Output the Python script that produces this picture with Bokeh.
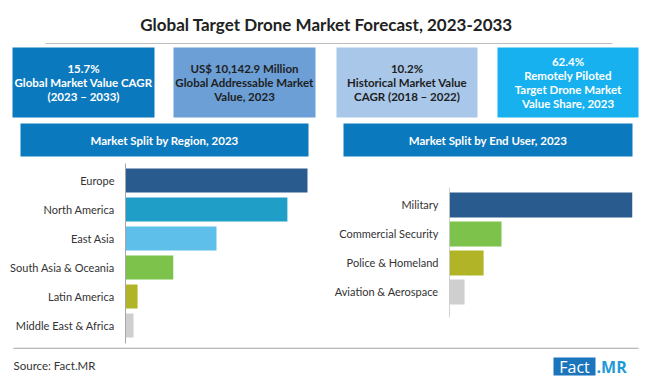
from bokeh.plotting import figure
from bokeh.layouts import column, row
from bokeh.models import Range1d, FixedTicker
from bokeh.core.properties import value
from bokeh.embed import file_html
from bokeh.resources import INLINE

# ---------------- data ----------------
TITLE = "Global Target Drone Market Forecast, 2023-2033"

stat_lines = [
    ["15.7%", "Global Market Value CAGR", "(2023 \u2013 2033)"],
    ["US$ 10,142.9 Million", "Global Addressable Market", "Value, 2023"],
    ["10.2%", "Historical Market Value", "CAGR (2018 \u2013 2022)"],
    ["62.4%", "Remotely Piloted", "Target Drone Market", "Value Share, 2023"],
]

region_title = "Market Split by Region, 2023"
regions = ["Europe", "North America", "East Asia", "South Asia & Oceania",
           "Latin America", "Middle East & Africa"]
region_share = [36.2, 32.2, 18.1, 9.5, 2.4, 1.6]

enduser_title = "Market Split by End User, 2023"
end_users = ["Military", "Commercial Security", "Police & Homeland", "Aviation & Aerospace"]
enduser_share = [64.4, 18.3, 12.0, 5.3]

source_text = "Source: Fact.MR"

# ---------------- styles ----------------
FONT = "Lato"
box_fill = ["#0b79bd", "#6c9fd6", "#a8c7e9", "#16b1ee"]
box_text = ["#ffffff", "#1e1e1e", "#1e1e1e", "#ffffff"]
box_x = [(12, 154), (173, 315), (336, 477), (497, 638)]
header_fill = "#0b79bd"
region_colors = ["#2a5b8e", "#1f9fc7", "#5dbfea", "#7dc24a", "#b2b428", "#cfcfcf"]
enduser_colors = ["#2a5b8e", "#7dc24a", "#b2b428", "#cfcfcf"]
AXIS_COLOR = "#a6a6a6"


def blank_fig(w, h, x0, x1, y0, y1):
    p = figure(width=w, height=h, x_range=Range1d(x0, x1), y_range=Range1d(y1, y0),
               x_axis_location=None, y_axis_location=None,
               output_backend="svg", toolbar_location=None, min_border=0)
    p.outline_line_color = None
    for g in p.grid:
        g.visible = False
    p.background_fill_color = "white"
    p.border_fill_color = "white"
    return p


# ---------------- top section ----------------
top = blank_fig(650, 158, 0, 650, 0, 158)
top.text(x=[326], y=[24], text=[TITLE], text_font=value(FONT), text_font_style="bold",
         text_font_size="17px", text_color="#222222", text_align="center",
         text_baseline="middle")
top.segment(x0=[45], y0=[43], x1=[612], y1=[43], line_color="#bdbdbd", line_width=1)

for i, lines in enumerate(stat_lines):
    l, r = box_x[i]
    top.quad(left=[l], right=[r], top=[47], bottom=[117], fill_color=box_fill[i],
             line_color=None)
    n = len(lines)
    cx = (l + r) / 2
    for k, s in enumerate(lines):
        yy = 82 + (k - (n - 1) / 2) * 14
        top.text(x=[cx], y=[yy], text=[s], text_font=value(FONT), text_font_style="bold",
                 text_font_size="11.5px", text_color=box_text[i], text_align="center",
                 text_baseline="middle")

for (l, r), t in [((20, 308), region_title), ((343, 632), enduser_title)]:
    top.quad(left=[l], right=[r], top=[123], bottom=[156], fill_color=header_fill,
             line_color=None)
    top.text(x=[(l + r) / 2], y=[140], text=[t], text_font=value(FONT),
             text_font_style="bold", text_font_size="11.5px", text_color="white",
             text_align="center", text_baseline="middle")


# ---------------- bar charts ----------------
def bar_fig(names, vals, colors, w, mbl, mbr, y_bottom, y_top, x_end, bh, axis_span=None):
    n = len(names)
    idx = list(range(n))
    p = figure(width=w, height=189, x_range=Range1d(0, x_end),
               y_range=Range1d(y_bottom, y_top), x_axis_location=None,
               output_backend="svg", toolbar_location=None,
               min_border_left=mbl, min_border_right=mbr,
               min_border_top=5, min_border_bottom=4)
    p.outline_line_color = None
    for g in p.grid:
        g.visible = False
    p.hbar(y=idx, left=0, right=vals, height=bh, fill_color=colors, line_color=None)
    ax = p.yaxis[0]
    ax.ticker = FixedTicker(ticks=idx)
    ax.major_label_overrides = {i: s for i, s in enumerate(names)}
    ax.major_tick_line_color = None
    ax.minor_tick_line_color = None
    ax.major_label_standoff = 5
    ax.major_label_text_font = FONT
    ax.major_label_text_font_size = "11px"
    ax.major_label_text_color = "#333333"
    if axis_span is None:
        ax.axis_line_color = AXIS_COLOR
        ax.axis_line_width = 1
    else:
        ax.axis_line_color = None
        p.segment(x0=[0], x1=[0], y0=[axis_span[0]], y1=[axis_span[1]],
                  line_color=AXIS_COLOR, line_width=1)
    return p


left = bar_fig(regions, region_share, region_colors, 325,
               125, 17, 5.621, -0.586, 36.4, 0.83)
right = bar_fig(end_users, enduser_share, enduser_colors, 325,
                124, 18, 4.776, -1.431, 64.4, 0.86, axis_span=(-0.603, 3.879))

# ---------------- footer ----------------
foot = blank_fig(650, 34, 0, 650, 347, 381)
foot.segment(x0=[13], y0=[347.6], x1=[638], y1=[347.6], line_color="#8c8c8c", line_width=1)
foot.text(x=[13], y=[365], text=[source_text], text_font=value(FONT),
          text_font_size="11.5px", text_color="#333333", text_align="left",
          text_baseline="middle")
foot.quad(left=[553], right=[595], top=[357], bottom=[375], fill_color="#1b75bc",
          line_color=None)
foot.text(x=[574], y=[366], text=["Fact"], text_font=value("Open Sans"),
          text_font_size="16px", text_color="white", text_align="center",
          text_baseline="middle")
foot.text(x=[596], y=[366], text=[".MR"], text_font=value("Open Sans"),
          text_font_style="bold", text_font_size="16px", text_color="#1e9ad8",
          text_align="left", text_baseline="middle")

layout = column(top, row(left, right), foot)
open("out.html", "w").write(file_html(layout, INLINE))
